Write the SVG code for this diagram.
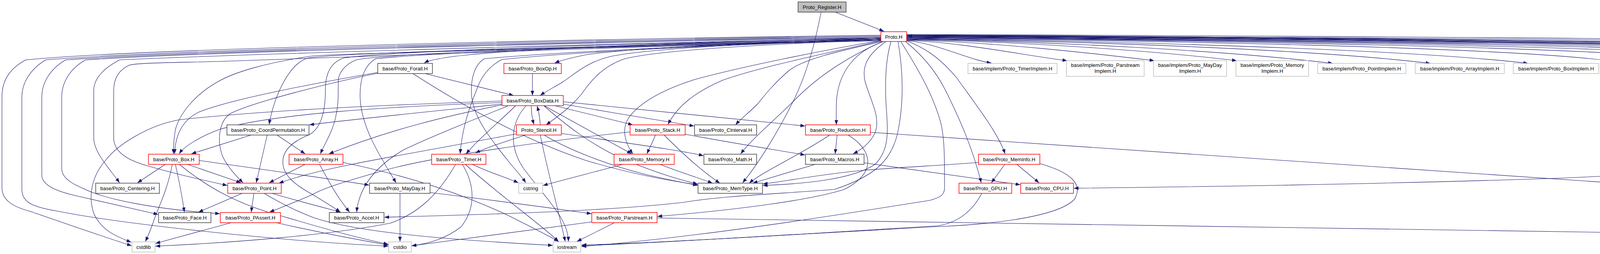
<svg xmlns="http://www.w3.org/2000/svg" width="6599" height="649" viewBox="0 0 6599 649">
<defs>
<marker id="a" markerWidth="13" markerHeight="10" refX="12" refY="4.5" orient="auto" markerUnits="userSpaceOnUse"><path d="M0,0 L12,4.5 L0,9 z" fill="#191970"/></marker>
<style>
.e{fill:none;stroke:#191970;stroke-width:1.1;marker-end:url(#a)}
rect{stroke-width:1.5}
.r{fill:#fff;stroke:#ff0000}
.k{fill:#fff;stroke:#404040}
.g{fill:#fff;stroke:#bfbfbf}
.s{fill:#bfbfbf;stroke:#404040}
text{font-family:"Liberation Sans",Arial,sans-serif;font-size:13px;text-anchor:middle;fill:#000}
</style>
</defs>
<rect x="0" y="0" width="6599" height="649" fill="#fff"/>
<g id="connectors">
<path class="e" d="M2138,31 L2263,80"/>
<path class="e" d="M2102,31 C2085,120 2060,200 2030,260 C1990,340 1940,420 1901,467"/>
<path class="e" d="M2255,90 C1800,95 400,120 66,153 C25,175 5,205 5,248 L5,480 C5,515 40,530 77,540 C150,565 250,600 337,628"/>
<path class="e" d="M2255,92 C1800,97 450,125 117,153 C80,175 56,210 56,248 L56,484 C56,520 90,530 150,540 C300,570 700,615 994,629"/>
<path class="e" d="M2255,94 C1800,100 500,128 168,153 C130,175 107,210 107,248 L107,447 C107,475 150,490 194,500 C280,520 350,535 405,548"/>
<path class="e" d="M2255,96 C1800,102 550,130 219,153 C180,175 158,210 158,248 L158,430 C158,455 185,470 214,482 C270,510 400,535 563,546"/>
<path class="e" d="M2255,98 C1800,105 700,135 306,153 C265,175 240,200 240,232 L240,352 C240,390 280,430 306,467"/>
<path class="e" d="M2255,100 C1800,110 900,150 561,157 C450,160 360,160 332,166 C300,180 291,205 291,232 L291,352 C291,390 330,410 372,422 C450,445 520,460 582,474"/>
<path class="e" d="M2255,102 C1600,118 900,132 790,148 C740,160 700,250 689,318"/>
<path class="e" d="M2255,104 C1600,120 900,135 800,143 C680,160 600,185 561,207 C500,240 460,290 449,331 C445,355 444,375 444,393"/>
<path class="e" d="M2255,100 C1700,110 1000,135 912,153 C880,165 866,190 866,207 C866,240 866,270 861,290 C855,330 835,360 820,393"/>
<path class="e" d="M2255,98 C1700,108 1000,130 880,148 C845,160 833,190 833,230 C833,290 820,330 790,345 C740,365 724,390 724,414 C724,450 760,475 800,497 C830,515 855,530 871,542"/>
<path class="e" d="M2255,100 C1700,112 1100,135 962,150 C935,165 920,200 922,250 C925,330 980,410 1014,467"/>
<path class="e" d="M2255,96 C1900,105 1400,120 1200,140 C1140,146 1100,153 1086,161"/>
<path class="e" d="M2255,100 C1800,115 1400,135 1240,150 C1215,165 1205,200 1207,240 C1210,300 1260,360 1300,410 C1320,435 1335,450 1346,467"/>
<path class="e" d="M2255,102 C1800,115 1450,135 1285,152 C1250,170 1230,200 1220,230 C1195,290 1182,340 1178,393"/>
<path class="e" d="M2255,98 C1900,108 1600,125 1500,140 C1460,148 1435,155 1420,161"/>
<path class="e" d="M2255,100 C1900,112 1650,125 1560,145 C1500,160 1470,190 1440,210 C1415,225 1395,235 1383,244"/>
<path class="e" d="M2255,102 C1900,115 1680,130 1600,150 C1540,170 1510,210 1489,240 C1460,275 1425,300 1398,319"/>
<path class="e" d="M2256,103 C2100,130 1900,170 1779,203 C1700,228 1640,260 1610,300 C1590,330 1600,365 1620,393"/>
<path class="e" d="M2256,104 C2100,140 1950,170 1850,205 C1780,235 1735,270 1710,318"/>
<path class="e" d="M2257,106 C2150,130 2060,150 2020,180 C1980,215 1960,240 1940,265 C1915,290 1895,305 1883,319"/>
<path class="e" d="M2260,106 C2180,140 2100,190 2040,250 C1980,310 1930,350 1896,393"/>
<path class="e" d="M2262,106 C2190,130 2150,180 2142,250 C2140,280 2141,300 2141,319"/>
<path class="e" d="M2268,106 C2220,140 2205,170 2215,210 C2230,260 2255,300 2240,340 C2225,370 2200,385 2184,393"/>
<path class="e" d="M2281,106 C2268,150 2265,200 2268,260 C2272,330 2280,380 2240,420 C2180,460 2050,470 1953,474"/>
<path class="e" d="M2299,106 C2310,170 2315,250 2300,330 C2285,410 2240,450 2136,484 C2000,495 1850,500 1750,517 C1550,540 1250,548 984,555"/>
<path class="e" d="M2306,106 C2340,160 2390,240 2410,320 C2418,360 2418,400 2418,480 C2418,500 2405,505 2380,512 C2200,540 1900,590 1600,620 C1550,625 1510,628 1489,630"/>
<path class="e" d="M2321,104 C2360,120 2400,140 2450,200 C2500,270 2555,340 2573,393"/>
<path class="e" d="M2318,106 C2360,140 2395,180 2420,230 C2460,310 2490,380 2512,467"/>
<path class="e" d="M2321,104 C2397,109.7 2484,154.5 2538,161"/>
<path class="e" d="M2321,103 C2465,108.2 2629,142.6 2732,155"/>
<path class="e" d="M2321,102 C2543,107.3 2796,136 2955,155"/>
<path class="e" d="M2321,101 C2617,106.4 2955,129.7 3166,155"/>
<path class="e" d="M2321,100 C2703,106.2 3139,129.2 3412,162"/>
<path class="e" d="M2321,99.5 C2790,105.75 3362,126 3662,162"/>
<path class="e" d="M2321,99 C2878,105.3 3612,126 3912,162"/>
<path class="e" d="M2321,98 C2950,103.7 3819,119 4119,155"/>
<path class="e" d="M2321,97 C3044,102.8 4087,119 4387,155"/>
<path class="e" d="M2321,96 C3119,101.9 4301,119 4601,155"/>
<path class="e" d="M2321,95.5 C3197,101.45 4523,119 4823,155"/>
<path class="e" d="M2321,95 C3272,101 4737,119 5037,155"/>
<path class="e" d="M2321,94 C3342,100.1 4939,119 5239,155"/>
<path class="e" d="M2321,93 C3413,99.2 5141,119 5441,155"/>
<path class="e" d="M2321,92 C3488,99 5354,126 5654,162"/>
<path class="e" d="M2321,91 C3566,98.1 5578,126 5878,162"/>
<path class="e" d="M2321,90 C3636,97.2 5777,126 6077,162"/>
<path class="e" d="M2321,89 C3720,96.3 6017,126 6317,162"/>
<path class="e" d="M5683,162 C5400,126 3500,97 2323,93"/>
<path class="e" d="M6105,162 C5800,126 3700,96 2323,92"/>
<path class="e" d="M2321,88 C4000,94 5900,110 6450,150 C6530,160 6572,200 6572,260 L6572,476 C6572,530 6555,580 6534,617"/>
<path class="e" d="M2321,90 C4000,98 5900,115 6440,152 C6495,165 6490,205 6440,230 C6200,320 5200,400 4000,455 C3500,472 3000,478 2749,481"/>
<path class="e" d="M1363,188 L1363,244"/>
<path class="e" d="M1088,188 L1315,244"/>
<path class="e" d="M1057,188 C1200,280 1350,360 1500,410 C1600,440 1700,460 1786,472"/>
<path class="e" d="M968,185 C850,205 600,250 510,286 C470,305 449,340 447,393"/>
<path class="e" d="M968,187 C850,210 650,260 590,290 C560,310 555,360 570,400 C585,430 605,450 622,467"/>
<path class="e" d="M1360,270 C1360,290 1363,305 1367,318"/>
<path class="e" d="M1383,319 C1382,300 1379,285 1375,271"/>
<path class="e" d="M1393,270 L1617,393"/>
<path class="e" d="M1420,270 L1620,319"/>
<path class="e" d="M1442,266 C1550,285 1700,310 1777,322"/>
<path class="e" d="M1442,260 L2061,322"/>
<path class="e" d="M1393,271 C1450,320 1500,360 1580,400 C1650,430 1720,455 1786,470"/>
<path class="e" d="M1347,270 C1310,310 1300,370 1340,430 C1400,510 1455,560 1455,617"/>
<path class="e" d="M1285,258 C1000,268 700,280 459,306 C380,320 300,370 270,410 C235,450 225,500 240,545 C260,590 300,605 336,619"/>
<path class="e" d="M1285,262 C1000,272 700,290 561,331 C510,350 470,375 459,393"/>
<path class="e" d="M1285,266 C1100,285 900,305 792,319"/>
<path class="e" d="M1285,268 C1150,295 1000,330 842,393"/>
<path class="e" d="M1320,270 C1280,310 1230,350 1193,393"/>
<path class="e" d="M1300,271 C1200,310 1080,360 1033,383 C970,420 920,470 913,542"/>
<path class="e" d="M1383,344 C1400,430 1430,540 1447,617"/>
<path class="e" d="M1437,341 C1600,365 1750,385 1801,398"/>
<path class="e" d="M1393,345 C1450,380 1550,420 1650,445 C1720,462 1760,468 1786,474"/>
<path class="e" d="M1322,342 C1200,365 1000,400 900,420 C800,440 750,455 714,468"/>
<path class="e" d="M1345,345 C1300,360 1250,375 1217,391"/>
<path class="e" d="M1613,337 C1400,360 1100,400 967,440 C880,465 830,480 800,497 C760,515 720,530 690,542"/>
<path class="e" d="M1678,345 C1670,365 1662,380 1656,393"/>
<path class="e" d="M1700,345 C1750,395 1800,440 1843,468"/>
<path class="e" d="M1754,343 C1900,370 2000,385 2061,396"/>
<path class="e" d="M1598,419 C1520,440 1440,460 1390,474"/>
<path class="e" d="M1687,419 C1740,440 1790,455 1824,468"/>
<path class="e" d="M2124,345 C2050,395 1950,440 1918,468"/>
<path class="e" d="M2143,345 L2138,393"/>
<path class="e" d="M2171,345 C2230,380 2250,440 2161,484 C2080,510 1900,535 1683,553"/>
<path class="e" d="M2228,338 L6447,625"/>
<path class="e" d="M1682,557 L6447,629"/>
<path class="e" d="M2090,419 L1927,468"/>
<path class="e" d="M2212,416 L2612,472"/>
<path class="e" d="M2573,419 L2538,467"/>
<path class="e" d="M2602,419 L2660,467"/>
<path class="e" d="M2505,415 C2450,420 2300,428 2212,435 C2100,445 2000,465 1953,470"/>
<path class="e" d="M2662,418 C2740,440 2775,470 2750,510 C2700,560 2500,575 2400,579 C2100,595 1700,620 1489,628"/>
<path class="e" d="M2513,494 C2490,540 2450,570 2400,577 C2100,595 1750,618 1489,626"/>
<path class="e" d="M643,345 L490,393"/>
<path class="e" d="M684,345 L656,467"/>
<path class="e" d="M709,345 L781,393"/>
<path class="e" d="M423,420 L352,467"/>
<path class="e" d="M480,420 L617,467"/>
<path class="e" d="M449,420 C458,460 466,500 472,542"/>
<path class="e" d="M441,420 C430,480 410,520 395,560 C385,590 378,605 372,617"/>
<path class="e" d="M459,420 C520,470 600,520 714,550 C800,575 900,605 994,624"/>
<path class="e" d="M510,410 C650,430 800,450 945,473"/>
<path class="e" d="M620,494 L508,542"/>
<path class="e" d="M650,494 L643,542"/>
<path class="e" d="M696,494 C750,510 800,523 872,542"/>
<path class="e" d="M676,494 C720,520 760,540 800,555 C900,590 1100,610 1415,627"/>
<path class="e" d="M592,569 L398,622"/>
<path class="e" d="M707,569 C800,590 900,610 994,626"/>
<path class="e" d="M781,420 L689,467"/>
<path class="e" d="M818,420 C840,460 860,500 895,542"/>
<path class="e" d="M878,415 C1000,440 1150,480 1300,550 C1350,575 1400,600 1430,617"/>
<path class="e" d="M1167,419 C1120,500 1070,545 1000,570 C850,600 600,620 398,629"/>
<path class="e" d="M1183,419 C1215,470 1220,530 1180,580 C1140,610 1100,622 1054,628"/>
<path class="e" d="M1190,419 C1280,500 1380,570 1430,617"/>
<path class="e" d="M1207,419 C1250,440 1300,455 1327,467"/>
<path class="e" d="M1024,494 L1024,617"/>
<path class="e" d="M1101,492 C1250,510 1400,530 1514,546"/>
<path class="e" d="M1573,569 L1477,617"/>
<path class="e" d="M1515,567 C1300,595 1150,615 1054,628"/>
</g>
<g id="n_reg"><rect class="s" x="2043" y="5" width="123" height="26"/><text x="2104.5" y="22.5">Proto_Register.H</text></g>
<g id="n_proto"><rect class="r" x="2255" y="81" width="66" height="25"/><text x="2288" y="98.5">Proto.H</text></g>
<g id="n_forall"><rect class="k" x="967" y="162" width="140" height="26"/><text x="1037" y="179.5">base/Proto_Forall.H</text></g>
<g id="n_boxop"><rect class="r" x="1290" y="162" width="147" height="26"/><text x="1363.5" y="179.5">base/Proto_BoxOp.H</text></g>
<g id="n_timerimp"><rect class="g" x="2478" y="162" width="228" height="26"/><text x="2592" y="179.5">base/implem/Proto_TimerImplem.H</text></g>
<g id="n_parimp"><rect class="g" x="2730" y="155" width="199" height="40"/><text x="2829.5" y="170.5">base/implem/Proto_Parstream</text><text x="2829.5" y="185.5">Implem.H</text></g>
<g id="n_maydayimp"><rect class="g" x="2953" y="155" width="187" height="40"/><text x="3046.5" y="170.5">base/implem/Proto_MayDay</text><text x="3046.5" y="185.5">Implem.H</text></g>
<g id="n_memimp"><rect class="g" x="3164" y="155" width="186" height="40"/><text x="3257" y="170.5">base/implem/Proto_Memory</text><text x="3257" y="185.5">Implem.H</text></g>
<g id="n_pointimp"><rect class="g" x="3373" y="162" width="226" height="26"/><text x="3486" y="179.5">base/implem/Proto_PointImplem.H</text></g>
<g id="n_arrayimp"><rect class="g" x="3623" y="162" width="228" height="26"/><text x="3737" y="179.5">base/implem/Proto_ArrayImplem.H</text></g>
<g id="n_boximp"><rect class="g" x="3874" y="162" width="219" height="26"/><text x="3983.5" y="179.5">base/implem/Proto_BoxImplem.H</text></g>
<g id="n_cpimp"><rect class="g" x="4117" y="155" width="243" height="40"/><text x="4238.5" y="170.5">base/implem/Proto_CoordPermutation</text><text x="4238.5" y="185.5">Implem.H</text></g>
<g id="n_ciimp"><rect class="g" x="4385" y="155" width="191" height="40"/><text x="4480.5" y="170.5">base/implem/Proto_CInterval</text><text x="4480.5" y="185.5">Implem.H</text></g>
<g id="n_redimp"><rect class="g" x="4599" y="155" width="198" height="40"/><text x="4698" y="170.5">base/implem/Proto_Reduction</text><text x="4698" y="185.5">Implem.H</text></g>
<g id="n_bdimp"><rect class="g" x="4821" y="155" width="190" height="40"/><text x="4916" y="170.5">base/implem/Proto_BoxData</text><text x="4916" y="185.5">Implem.H</text></g>
<g id="n_stimp"><rect class="g" x="5035" y="155" width="178" height="40"/><text x="5124" y="170.5">base/implem/Proto_Stencil</text><text x="5124" y="185.5">Implem.H</text></g>
<g id="n_stdefs"><rect class="g" x="5237" y="155" width="179" height="40"/><text x="5326.5" y="170.5">base/implem/Proto_Stencil</text><text x="5326.5" y="185.5">Defs.H</text></g>
<g id="n_faimp"><rect class="g" x="5439" y="155" width="172" height="40"/><text x="5525" y="170.5">base/implem/Proto_Forall</text><text x="5525" y="185.5">Implem.H</text></g>
<g id="n_dset"><rect class="r" x="5634" y="162" width="190" height="26"/><text x="5729" y="179.5">base/Proto_DistributedSet.H</text></g>
<g id="n_interp"><rect class="r" x="5847" y="162" width="180" height="26"/><text x="5937" y="179.5">base/Proto_InterpStencil.H</text></g>
<g id="n_bc"><rect class="r" x="6050" y="162" width="216" height="26"/><text x="6158" y="179.5">base/Proto_BoundaryCondition.H</text></g>
<g id="n_pd"><rect class="r" x="6290" y="162" width="168" height="26"/><text x="6374" y="179.5">Proto_ProblemDomain.H</text></g>
<g id="n_boxdata"><rect class="r" x="1285" y="244" width="157" height="26"/><text x="1363.5" y="261.5">base/Proto_BoxData.H</text></g>
<g id="n_coordp"><rect class="k" x="581" y="319" width="210" height="26"/><text x="686" y="336.5">base/Proto_CoordPermutation.H</text></g>
<g id="n_stencil"><rect class="r" x="1322" y="319" width="115" height="26"/><text x="1379.5" y="336.5">Proto_Stencil.H</text></g>
<g id="n_stack"><rect class="r" x="1613" y="319" width="141" height="26"/><text x="1683.5" y="336.5">base/Proto_Stack.H</text></g>
<g id="n_cint"><rect class="k" x="1778" y="319" width="159" height="26"/><text x="1857.5" y="336.5">base/Proto_CInterval.H</text></g>
<g id="n_reduc"><rect class="r" x="2062" y="319" width="166" height="26"/><text x="2145" y="336.5">base/Proto_Reduction.H</text></g>
<g id="n_box"><rect class="r" x="380" y="394" width="130" height="26"/><text x="445" y="411.5">base/Proto_Box.H</text></g>
<g id="n_array"><rect class="r" x="740" y="394" width="138" height="26"/><text x="809" y="411.5">base/Proto_Array.H</text></g>
<g id="n_timer"><rect class="r" x="1105" y="394" width="139" height="26"/><text x="1174.5" y="411.5">base/Proto_Timer.H</text></g>
<g id="n_memory"><rect class="r" x="1572" y="394" width="154" height="26"/><text x="1649" y="411.5">base/Proto_Memory.H</text></g>
<g id="n_math"><rect class="k" x="1802" y="394" width="135" height="26"/><text x="1869.5" y="411.5">base/Proto_Math.H</text></g>
<g id="n_macros"><rect class="k" x="2062" y="394" width="150" height="26"/><text x="2137" y="411.5">base/Proto_Macros.H</text></g>
<g id="n_meminfo"><rect class="r" x="2505" y="394" width="157" height="26"/><text x="2583.5" y="411.5">base/Proto_MemInfo.H</text></g>
<g id="n_centering"><rect class="k" x="245" y="468" width="163" height="26"/><text x="326.5" y="485.5">base/Proto_Centering.H</text></g>
<g id="n_point"><rect class="r" x="583" y="468" width="137" height="26"/><text x="651.5" y="485.5">base/Proto_Point.H</text></g>
<g id="n_mayday"><rect class="k" x="946" y="468" width="155" height="26"/><text x="1023.5" y="485.5">base/Proto_MayDay.H</text></g>
<g id="n_cstring"><rect class="g" x="1328" y="468" width="61" height="26"/><text x="1358.5" y="485.5">cstring</text></g>
<g id="n_memtype"><rect class="k" x="1787" y="468" width="165" height="26"/><text x="1869.5" y="485.5">base/Proto_MemType.H</text></g>
<g id="n_gpu"><rect class="r" x="2455" y="468" width="135" height="26"/><text x="2522.5" y="485.5">base/Proto_GPU.H</text></g>
<g id="n_cpu"><rect class="r" x="2613" y="468" width="135" height="26"/><text x="2680.5" y="485.5">base/Proto_CPU.H</text></g>
<g id="n_face"><rect class="k" x="406" y="543" width="134" height="26"/><text x="473" y="560.5">base/Proto_Face.H</text></g>
<g id="n_passert"><rect class="r" x="564" y="543" width="154" height="26"/><text x="641" y="560.5">base/Proto_PAssert.H</text></g>
<g id="n_accel"><rect class="k" x="843" y="543" width="140" height="26"/><text x="913" y="560.5">base/Proto_Accel.H</text></g>
<g id="n_parstream"><rect class="r" x="1515" y="543" width="167" height="26"/><text x="1598.5" y="560.5">base/Proto_Parstream.H</text></g>
<g id="n_cstdlib"><rect class="g" x="338" y="618" width="59" height="26"/><text x="367.5" y="635.5">cstdlib</text></g>
<g id="n_cstdio"><rect class="g" x="995" y="618" width="58" height="26"/><text x="1024" y="635.5">cstdio</text></g>
<g id="n_iostream"><rect class="g" x="1416" y="618" width="71" height="26"/><text x="1451.5" y="635.5">iostream</text></g>
<g id="n_spmd"><rect class="r" x="6448" y="618" width="146" height="26"/><text x="6521" y="635.5">base/Proto_SPMD.H</text></g>
</svg>
